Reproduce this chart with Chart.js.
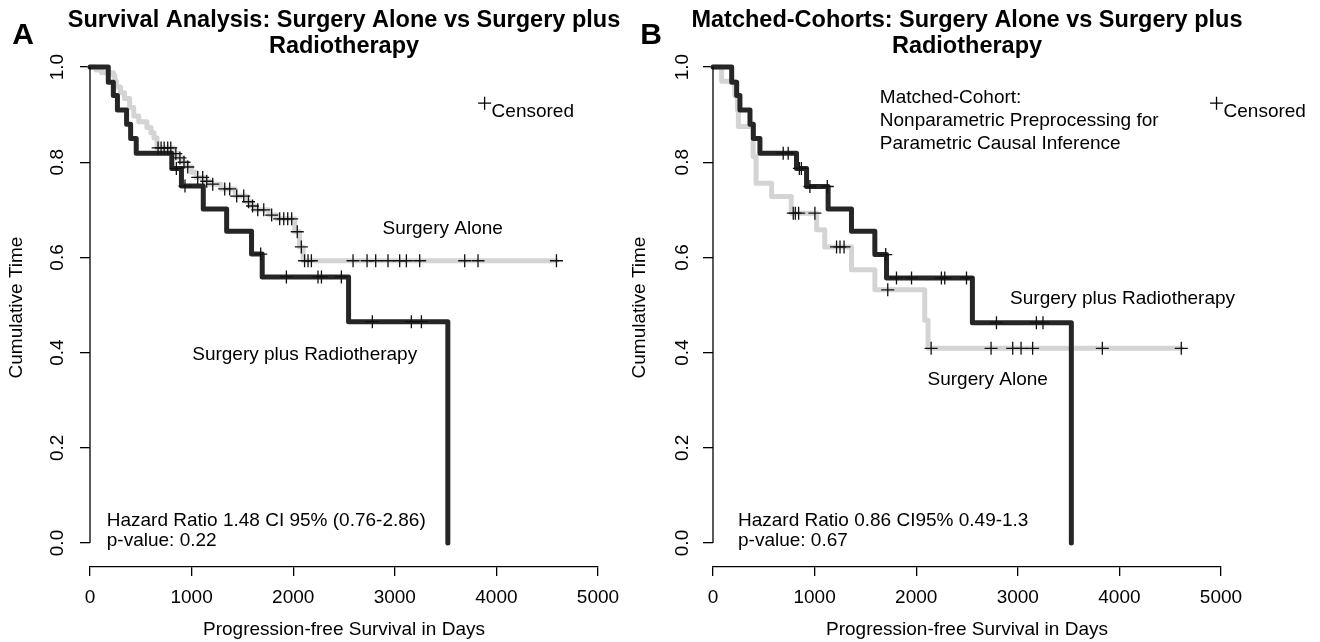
<!DOCTYPE html>
<html>
<head>
<meta charset="utf-8">
<script src="https://cdn.jsdelivr.net/npm/chart.js@4.4.0/dist/chart.umd.min.js"></script>
<style>
  body { margin: 0; background: #fff; }
  #wrap { position: relative; width: 1320px; height: 642px; }
  #chartA { position: absolute; left: 0; top: 0; }
  #chartB { position: absolute; left: 620px; top: 0; }
</style>
</head>
<body>
<div id="wrap">
  <canvas id="chartA" width="640" height="642"></canvas>
  <canvas id="chartB" width="700" height="642"></canvas>
</div>
<script>
// axis ticks
const xTicks = [0, 1000, 2000, 3000, 4000, 5000];
const yTicks = [0, 0.2, 0.4, 0.6, 0.8, 1.0];

// Panel A - surgery plus radiotherapy (step points: day, survival after the event)
const aRtDays = [0, 180, 230, 270, 360, 400, 455, 805, 900, 1115, 1345, 1590, 1695, 2545, 3522];
const aRtSurv = [1, 0.968, 0.940, 0.910, 0.880, 0.850, 0.819, 0.787, 0.750, 0.702, 0.655, 0.607, 0.559, 0.465, 0];
const aRtCensDays = [850, 935, 1680, 1933, 2244, 2278, 2474, 2779, 3163, 3262];
const aRtCensSurv = [0.787, 0.750, 0.607, 0.559, 0.559, 0.559, 0.559, 0.465, 0.465, 0.465];

// Panel A - surgery alone
const aSaDays = [0, 60, 115, 230, 245, 260, 300, 340, 390, 430, 480, 560, 600, 630, 660, 820, 870, 910, 950, 1000, 1045, 1130, 1180, 1290, 1430, 1540, 1580, 1630, 1760, 1840, 2015, 2062, 2098, 4591];
const aSaSurv = [1, 0.994, 0.988, 0.982, 0.970, 0.958, 0.946, 0.934, 0.915, 0.897, 0.885, 0.873, 0.862, 0.851, 0.830, 0.818, 0.809, 0.800, 0.790, 0.779, 0.768, 0.760, 0.754, 0.744, 0.729, 0.717, 0.708, 0.700, 0.689, 0.681, 0.654, 0.622, 0.593, 0.593];
const aSaCensDays = [670, 700, 730, 765, 795, 845, 885, 925, 962, 1060, 1109, 1149, 1208, 1326, 1375, 1444, 1513, 1560, 1600, 1651, 1710, 1788, 1867, 1907, 1946, 1985, 2040, 2080, 2112, 2146, 2179, 2589, 2727, 2812, 2933, 3048, 3114, 3245, 3688, 3819, 4591];
const aSaCensSurv = [0.830, 0.830, 0.830, 0.830, 0.830, 0.818, 0.809, 0.800, 0.790, 0.768, 0.768, 0.760, 0.754, 0.744, 0.744, 0.729, 0.729, 0.717, 0.708, 0.700, 0.700, 0.689, 0.681, 0.681, 0.681, 0.681, 0.654, 0.622, 0.593, 0.593, 0.593, 0.593, 0.593, 0.593, 0.593, 0.593, 0.593, 0.593, 0.593, 0.593, 0.593];

// Panel B - matched cohorts, surgery plus radiotherapy
const bRtDays = [0, 184, 233, 265, 364, 397, 462, 822, 921, 1133, 1363, 1593, 1708, 2553, 3527];
const bRtSurv = [1, 0.968, 0.940, 0.910, 0.880, 0.850, 0.819, 0.787, 0.749, 0.702, 0.655, 0.606, 0.557, 0.463, 0];
const bRtCensDays = [691, 740, 850, 870, 954, 1125, 1700, 1806, 1954, 2248, 2281, 2495, 2790, 3183, 3248];
const bRtCensSurv = [0.819, 0.819, 0.787, 0.787, 0.749, 0.749, 0.606, 0.557, 0.557, 0.557, 0.557, 0.557, 0.463, 0.463, 0.463];

// Panel B - matched cohorts, surgery alone
const bSaDays = [0, 85, 215, 240, 250, 395, 424, 577, 770, 1020, 1100, 1363, 1593, 2084, 2117, 4609];
const bSaSurv = [1, 0.970, 0.940, 0.910, 0.875, 0.812, 0.756, 0.728, 0.693, 0.658, 0.622, 0.574, 0.532, 0.468, 0.409, 0.409];
const bSaCensDays = [790, 810, 843, 1003, 1216, 1250, 1290, 1720, 2147, 2737, 2950, 3032, 3146, 3832, 4609];
const bSaCensSurv = [0.693, 0.693, 0.693, 0.693, 0.622, 0.622, 0.622, 0.532, 0.409, 0.409, 0.409, 0.409, 0.409, 0.409, 0.409];

const FONT = '"Liberation Sans", Arial, Helvetica, sans-serif';
const BLACK = '#262626';
const GRAY = '#d4d4d4';
Chart.defaults.font.family = FONT;
Chart.defaults.color = '#000';

const pts = (xs, ys) => xs.map((x, i) => ({ x: x, y: ys[i] }));

// R style extras: main title over the plot, y axis line 0..1, text labels, censored key, panel letter
const notesPlugin = {
  id: 'notes',
  afterDraw(chart, args, opts) {
    const { ctx, chartArea } = chart;
    const x = chart.scales.x, y = chart.scales.y;
    ctx.save();
    ctx.strokeStyle = '#000';
    ctx.lineWidth = 1.3;
    ctx.beginPath();
    ctx.moveTo(chartArea.left, y.getPixelForValue(0));
    ctx.lineTo(chartArea.left, y.getPixelForValue(1));
    ctx.stroke();

    ctx.fillStyle = '#000';
    ctx.textBaseline = 'middle';
    ctx.textAlign = 'center';
    ctx.font = 'bold 23.5px ' + FONT;
    const cx = (chartArea.left + chartArea.right) / 2;
    opts.title.forEach((t, i) => ctx.fillText(t, cx, 20.5 + i * 26.4));

    ctx.font = '19px ' + FONT;
    opts.labels.forEach(l => {
      ctx.textAlign = l.align || 'left';
      ctx.fillText(l.text, x.getPixelForValue(l.x), y.getPixelForValue(l.y));
    });

    const kx = x.getPixelForValue(opts.key.x), ky = y.getPixelForValue(opts.key.y);
    ctx.beginPath();
    ctx.moveTo(kx - 6.5, ky); ctx.lineTo(kx + 6.5, ky);
    ctx.moveTo(kx, ky - 6.5); ctx.lineTo(kx, ky + 6.5);
    ctx.stroke();
    ctx.textAlign = 'left';
    ctx.fillText('Censored', kx + 7, ky + 9);

    ctx.font = 'bold 30px ' + FONT;
    ctx.textAlign = 'center';
    ctx.fillText(opts.panel, opts.panelX, 36);
    ctx.restore();
  }
};

function makeScales(yWidth, yPad, yTitlePad) {
  return {
    x: {
      type: 'linear', min: 0, max: 5000,
      afterBuildTicks: s => { s.ticks = xTicks.map(v => ({ value: v })); },
      afterFit: s => { s.height = 75; },
      border: { display: true, color: '#000', width: 1.3 },
      grid: { drawOnChartArea: false, drawTicks: true, tickLength: 9, color: '#000', lineWidth: 1.3 },
      ticks: { color: '#000', font: { size: 19 }, padding: 10, maxRotation: 0, autoSkip: false, callback: v => String(v) },
      title: { display: true, text: 'Progression-free Survival in Days', color: '#000', font: { size: 19 }, padding: { top: 0, bottom: 1 } }
    },
    y: {
      type: 'linear', min: -0.0504, max: 1.04,
      afterBuildTicks: s => { s.ticks = yTicks.map(v => ({ value: v })); },
      afterFit: s => { s.width = yWidth; },
      border: { display: false },
      grid: { drawOnChartArea: false, drawTicks: true, tickLength: 10, color: '#000', lineWidth: 1.3 },
      ticks: { color: '#000', font: { size: 19 }, padding: yPad, minRotation: 90, maxRotation: 90, crossAlign: 'center', callback: v => v.toFixed(1) },
      title: { display: true, text: 'Cumulative Time', color: '#000', font: { size: 19 }, padding: { top: yTitlePad, bottom: 0 } }
    }
  };
}

function makeDatasets(saDays, saSurv, saCD, saCS, rtDays, rtSurv, rtCD, rtCS) {
  const cens = (d, s) => ({
    data: pts(d, s), showLine: false, pointStyle: 'cross', pointRadius: 6.5,
    pointBorderWidth: 1.3, pointBorderColor: '#111', pointBackgroundColor: '#111', clip: false
  });
  const curve = (d, s, c) => ({
    data: pts(d, s), stepped: 'before', borderColor: c, borderWidth: 5, pointRadius: 0,
    fill: false, borderCapStyle: 'round', borderJoinStyle: 'round', clip: false
  });
  // first dataset is drawn on top
  return [cens(saCD, saCS), cens(rtCD, rtCS), curve(rtDays, rtSurv, BLACK), curve(saDays, saSurv, GRAY)];
}

function makeChart(id, cfg) {
  return new Chart(document.getElementById(id), {
    type: 'line',
    data: { datasets: makeDatasets(...cfg.series) },
    options: {
      responsive: false,
      animation: false,
      events: [],
      layout: { padding: { left: 0, right: cfg.rightPad, top: 48, bottom: 0 } },
      scales: makeScales(cfg.yWidth, cfg.yPad, cfg.yTitlePad),
      plugins: {
        legend: { display: false },
        tooltip: { enabled: false },
        title: { display: false },
        notes: cfg.notes
      }
    },
    plugins: [notesPlugin]
  });
}

makeChart('chartA', {
  series: [aSaDays, aSaSurv, aSaCensDays, aSaCensSurv, aRtDays, aRtSurv, aRtCensDays, aRtCensSurv],
  rightPad: 42, yWidth: 90, yPad: 8.8, yTitlePad: 5.6,
  notes: {
    title: ['Survival Analysis: Surgery Alone vs Surgery plus', 'Radiotherapy'],
    panel: 'A', panelX: 23,
    key: { x: 3884, y: 0.924 },
    labels: [
      { text: 'Surgery Alone', x: 3471, y: 0.66, align: 'center' },
      { text: 'Surgery plus Radiotherapy', x: 2113, y: 0.395, align: 'center' },
      { text: 'Hazard Ratio 1.48 CI 95% (0.76-2.86)', x: 165, y: 0.047 },
      { text: 'p-value: 0.22', x: 165, y: 0.005 }
    ]
  }
});

makeChart('chartB', {
  series: [bSaDays, bSaSurv, bSaCensDays, bSaCensSurv, bRtDays, bRtSurv, bRtCensDays, bRtCensSurv],
  rightPad: 99, yWidth: 93, yPad: 6.8, yTitlePad: 8.6,
  notes: {
    title: ['Matched-Cohorts: Surgery Alone vs Surgery plus', 'Radiotherapy'],
    panel: 'B', panelX: 31,
    key: { x: 4956, y: 0.924 },
    labels: [
      { text: 'Matched-Cohort:', x: 1642, y: 0.935 },
      { text: 'Nonparametric Preprocessing for', x: 1642, y: 0.887 },
      { text: 'Parametric Causal Inference', x: 1642, y: 0.838 },
      { text: 'Surgery plus Radiotherapy', x: 4031, y: 0.513, align: 'center' },
      { text: 'Surgery Alone', x: 2704, y: 0.342, align: 'center' },
      { text: 'Hazard Ratio 0.86 CI95% 0.49-1.3', x: 246, y: 0.047 },
      { text: 'p-value: 0.67', x: 246, y: 0.005 }
    ]
  }
});
</script>
</body>
</html>
